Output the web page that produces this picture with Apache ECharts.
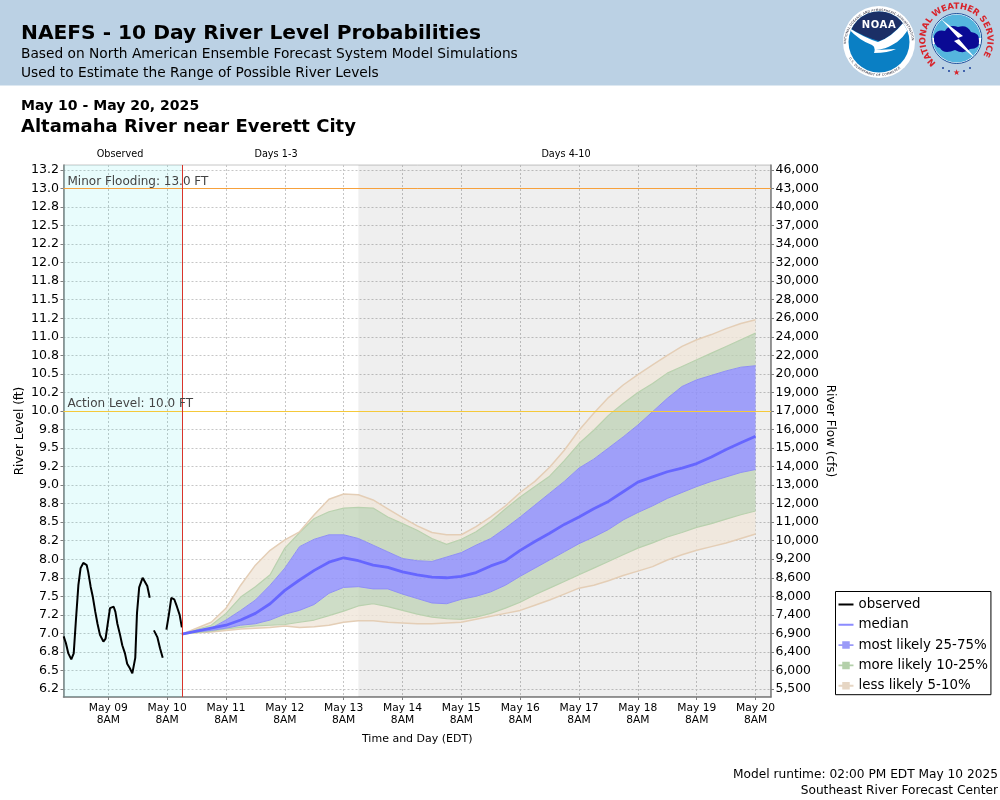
<!DOCTYPE html>
<html>
<head>
<meta charset="utf-8">
<title>NAEFS - 10 Day River Level Probabilities</title>
<script src="https://cdn.jsdelivr.net/npm/echarts@6/dist/echarts.min.js"></script>
<style>
  html, body { margin: 0; padding: 0; background: #fff; }
  #chart { position: absolute; left: 0; top: 0; width: 1000px; height: 800px; }
  #logos { position: absolute; left: 830px; top: 0; width: 170px; height: 86px; font-family: "DejaVu Sans", sans-serif; }
</style>
</head>
<body>
<div id="chart"></div>
<svg id="logos" viewBox="0 0 170 86">
  <defs>
    <path id="noaaTop" d="M16 44 A33 33 0 0 1 82 44"/>
    <path id="noaaBot" d="M19 58 A34 34 0 0 0 79 58"/>
    <path id="nwsRing" d="M106 63 A31 31 0 1 1 148 62"/>
    <clipPath id="noaaClip"><circle cx="49" cy="42" r="30.5"/></clipPath>
    <clipPath id="nwsClip"><circle cx="126.7" cy="38.5" r="24"/></clipPath>
  </defs>
  <circle cx="49" cy="42" r="36" fill="#fff"/>
  <text font-size="3.2" fill="#223"><textPath href="#noaaTop" textLength="100">NATIONAL OCEANIC AND ATMOSPHERIC ADMINISTRATION</textPath></text>
  <text font-size="3.2" fill="#223"><textPath href="#noaaBot" textLength="60">U.S. DEPARTMENT OF COMMERCE</textPath></text>
  <g clip-path="url(#noaaClip)">
    <rect x="15" y="10" width="70" height="65" fill="#0a7fc4"/>
    <path d="M15 10 H85 V20 L72 24 Q60 38 49 41 Q34 37 18 27 Z" fill="#1b2f66"/>
    <path d="M16 26 Q34 38 48 42 Q62 37 74 22 L82 20 Q76 38 62 45 Q56 49 46 50 L66 49 Q58 53 44 53 Q46 47 42 45 Q28 40 16 26 Z" fill="#fff"/>
  </g>
  <text x="49" y="28" text-anchor="middle" font-size="10" font-weight="bold" fill="#fff" letter-spacing="0.6">NOAA</text>

  <circle cx="126.7" cy="38.5" r="25" fill="#fff" stroke="#1b4d9a" stroke-width="1"/>
  <g clip-path="url(#nwsClip)">
    <rect x="100" y="14" width="54" height="24" fill="#55b5de"/>
    <rect x="100" y="44" width="54" height="20" fill="#55b5de"/>
    <path d="M104 36 Q107 29 115 31 Q119 24 128 27 Q137 24 141 32 Q150 33 149 41 Q150 49 140 49 Q134 55 125 50 Q114 55 110 48 Q103 46 104 36 Z" fill="#0a0a94"/>
    <path d="M111 19 L133 36 L128 38 L146 59 L124 41 L129 39 Z" fill="#fff"/>
  </g>
  <text font-size="8.6" font-weight="bold" fill="#d8232a"><textPath href="#nwsRing" textLength="140" lengthAdjust="spacing">NATIONAL WEATHER SERVICE</textPath></text>
  <text x="126.7" y="75" text-anchor="middle" font-size="8" fill="#d8232a">★</text>
  <circle cx="119" cy="71" r="1" fill="#1b3f9a"/>
  <circle cx="134" cy="71" r="1" fill="#1b3f9a"/>
  <circle cx="113" cy="68" r="1" fill="#1b3f9a"/>
  <circle cx="140" cy="68" r="1" fill="#1b3f9a"/>
</svg>
<script>
// x axis is hours after May 09 8AM EDT
var axisMinHour = -18.27;
var axisMaxHour = 270.3;
var nowHour = 30;
var days4to10Hour = 102;
var levelMin = 6.142;
var levelMax = 13.317;

var dayTickHours = [0, 24, 48, 72, 96, 120, 144, 168, 192, 216, 240, 264];
var dayTickLabels = ['May 09\n8AM', 'May 10\n8AM', 'May 11\n8AM', 'May 12\n8AM', 'May 13\n8AM', 'May 14\n8AM',
    'May 15\n8AM', 'May 16\n8AM', 'May 17\n8AM', 'May 18\n8AM', 'May 19\n8AM', 'May 20\n8AM'];

var levelTicks = [6.25, 6.5, 6.75, 7, 7.25, 7.5, 7.75, 8, 8.25, 8.5, 8.75, 9, 9.25, 9.5, 9.75, 10,
    10.25, 10.5, 10.75, 11, 11.25, 11.5, 11.75, 12, 12.25, 12.5, 12.75, 13, 13.25];
var levelLabels = ['6.2', '6.5', '6.8', '7.0', '7.2', '7.5', '7.8', '8.0', '8.2', '8.5', '8.8', '9.0', '9.2', '9.5', '9.8', '10.0',
    '10.2', '10.5', '10.8', '11.0', '11.2', '11.5', '11.8', '12.0', '12.2', '12.5', '12.8', '13.0', '13.2'];
var flowLabels = ['5,500', '6,000', '6,400', '6,900', '7,400', '8,000', '8,600', '9,200', '10,000', '11,000', '12,000',
    '13,000', '14,000', '15,000', '16,000', '17,000', '19,000', '20,000', '22,000', '24,000', '26,000', '28,000',
    '30,000', '32,000', '34,000', '37,000', '40,000', '43,000', '46,000'];

var actionLevel = 10;
var floodLevel = 13;

// observed stage, null = gap in the record
var obsHours = [-18.2, -17.3, -16.3, -15.1, -14.1, -13.2, -12.2, -11.3, -10.2, -8.8, -8.2, -7.2, -6.3, -5.3, -4.4, -3.4, -2,
    -1.1, -0.4, 0.7, 2.2, 2.9, 3.7, 4.8, 5.7, 6.8, 7.7, 8.8, 9.8, 11, 11.7, 12.6, 14, 14.8, 15.9, 16.9,
    17.8, 18.6, 20, 21.1, 22.2, 23, 23.7, 24.7, 25.7, 26.9, 28, 29.1, 30];
var obsLevel = [6.96, 6.87, 6.73, 6.65, 6.73, 7.18, 7.65, 7.88, 7.95, 7.92, 7.83, 7.63, 7.49, 7.29, 7.13, 6.98, 6.89,
    6.93, 7.09, 7.34, 7.36, 7.29, 7.13, 6.98, 6.84, 6.73, 6.59, 6.53, 6.46, 6.67, 7.27, 7.62, 7.75, 7.75, 7.64, 7.48,
    null, 7.04, 6.95, 6.8, 6.67, null, 7.05, 7.25, 7.48, 7.46, 7.36, 7.25, 7.08];

var fcstHours = [30, 36, 42, 48, 54, 60, 66, 72, 78, 84, 90, 96, 102, 108, 114, 120, 126, 132, 138, 144,
    150, 156, 162, 168, 174, 180, 186, 192, 198, 204, 210, 216, 222, 228, 234, 240, 246, 252, 258, 264];
var p95 = [6.99, 7.07, 7.15, 7.34, 7.65, 7.92, 8.12, 8.26, 8.37, 8.6, 8.81, 8.88, 8.87, 8.8, 8.68, 8.56, 8.45, 8.36, 8.33, 8.33,
    8.44, 8.57, 8.72, 8.9, 9.05, 9.24, 9.47, 9.74, 9.97, 10.18, 10.35, 10.49, 10.62, 10.75, 10.87, 10.96, 11.03, 11.11, 11.18, 11.23];
var p90 = [6.99, 7.05, 7.11, 7.27, 7.49, 7.63, 7.79, 8.15, 8.36, 8.55, 8.64, 8.69, 8.7, 8.69, 8.57, 8.48, 8.39, 8.28, 8.2, 8.27,
    8.37, 8.51, 8.68, 8.84, 8.98, 9.12, 9.33, 9.56, 9.74, 9.94, 10.1, 10.25, 10.37, 10.51, 10.6, 10.69, 10.78, 10.87, 10.96, 11.05];
var p75 = [6.99, 7.04, 7.07, 7.18, 7.31, 7.45, 7.65, 7.88, 8.17, 8.27, 8.33, 8.33, 8.28, 8.19, 8.1, 8.01, 7.98, 7.97, 8.03, 8.09,
    8.19, 8.28, 8.42, 8.57, 8.73, 8.89, 9.05, 9.23, 9.35, 9.5, 9.65, 9.81, 9.99, 10.17, 10.33, 10.42, 10.48, 10.54, 10.59, 10.61];
var p50 = [6.99, 7.03, 7.07, 7.11, 7.18, 7.27, 7.4, 7.58, 7.72, 7.85, 7.96, 8.02, 7.98, 7.92, 7.89, 7.83, 7.79, 7.76, 7.75, 7.77,
    7.82, 7.91, 7.98, 8.12, 8.24, 8.35, 8.47, 8.57, 8.68, 8.78, 8.91, 9.04, 9.11, 9.18, 9.23, 9.29, 9.38, 9.48, 9.57, 9.66];
var p25 = [6.99, 7.02, 7.04, 7.07, 7.11, 7.13, 7.18, 7.26, 7.31, 7.39, 7.54, 7.62, 7.63, 7.6, 7.6, 7.53, 7.47, 7.41, 7.4, 7.46,
    7.5, 7.56, 7.65, 7.77, 7.88, 7.99, 8.1, 8.21, 8.3, 8.4, 8.53, 8.63, 8.72, 8.82, 8.9, 8.98, 9.05, 9.11, 9.17, 9.21];
var p10 = [6.99, 7.01, 7.03, 7.06, 7.08, 7.1, 7.11, 7.12, 7.15, 7.18, 7.24, 7.3, 7.37, 7.4, 7.36, 7.31, 7.26, 7.22, 7.2, 7.19,
    7.22, 7.27, 7.34, 7.42, 7.52, 7.61, 7.7, 7.79, 7.88, 7.97, 8.06, 8.15, 8.22, 8.3, 8.36, 8.43, 8.48, 8.54, 8.6, 8.65];
var p5 = [6.99, 7.01, 7.02, 7.04, 7.06, 7.07, 7.08, 7.1, 7.08, 7.09, 7.11, 7.15, 7.17, 7.17, 7.15, 7.14, 7.13, 7.13, 7.14, 7.15,
    7.19, 7.23, 7.27, 7.31, 7.38, 7.45, 7.53, 7.61, 7.65, 7.71, 7.78, 7.84, 7.9, 7.99, 8.06, 8.12, 8.17, 8.22, 8.28, 8.34];

function pairs(hours, values) {
    return hours.map(function (h, i) {
        return [h, values[i]];
    });
}

// [thickness, hour] rows: the stacked dimension has to come first on a value x axis
function bandRows(upper, lower) {
    return fcstHours.map(function (h, i) {
        return [lower ? upper[i] - lower[i] : upper[i], h];
    });
}

function bandSeries(name, data, lineColor, areaColor, lineWidth) {
    return {
        name: name,
        type: 'line',
        stack: 'bands',
        z: 2,
        symbol: 'none',
        silent: true,
        data: data,
        encode: { x: 1, y: 0 },
        itemStyle: { color: lineColor },
        lineStyle: { color: lineColor, width: lineWidth },
        areaStyle: areaColor ? { color: areaColor, opacity: 1 } : { opacity: 0 }
    };
}

// one straight reference line, kept as its own series so its colour sticks
function refLine(name, target, color) {
    return {
        name: name,
        type: 'line',
        z: 4,
        symbol: 'none',
        silent: true,
        data: [],
        markLine: {
            silent: true,
            symbol: 'none',
            animation: false,
            lineStyle: { color: color, type: 'solid', width: 1, opacity: 1 },
            emphasis: { disabled: true },
            label: {
                show: name !== '',
                position: 'insideStartTop',
                distance: [4, 1],
                fontSize: 12,
                color: '#444',
                fontFamily: FONT,
                formatter: '{b}'
            },
            data: [Object.assign({ name: name }, target)]
        }
    };
}

var TAN_LINE = '#e4ceb6';
var GREEN_LINE = '#b9d1ae';
var BLUE_LINE = '#8f8ff5';
var TAN_AREA = 'rgba(240,230,218,0.8)';
var GREEN_AREA = 'rgba(190,210,180,0.75)';
var BLUE_AREA = 'rgba(145,145,250,0.85)';
var GRID_COLOR = '#c6c6c6';

var FONT = '"DejaVu Sans", sans-serif';
var KEY_LINE = 'M0 0h.01v.01H0zM16 16h.01v.01H16zM0 7h16v2H0z';
var KEY_BOX = 'M0 0h.01v.01H0zM16 16h.01v.01H16zM0 7h16v2H0zM4 4h8v8H4z';

function pageText(text, x, y, size, weight, align) {
    return {
        type: 'text',
        x: x,
        y: y,
        silent: true,
        style: {
            text: text,
            font: (weight || 'normal') + ' ' + size + 'px ' + FONT,
            fill: '#000',
            textAlign: align || 'left',
            textVerticalAlign: 'middle'
        }
    };
}

var yTickStyle = { show: true, length: 3, lineStyle: { color: '#808080' }, customValues: levelTicks };

var chart = echarts.init(document.getElementById('chart'), null, { renderer: 'canvas' });
chart.setOption({
    animation: false,
    backgroundColor: '#fff',
    textStyle: { fontFamily: FONT },
    grid: {
        left: 63.5, right: 229, top: 165, bottom: 103,
        outerBoundsMode: 'none',
        show: true, borderColor: GRID_COLOR, borderWidth: 1, backgroundColor: '#fff'
    },
    xAxis: {
        type: 'value',
        min: axisMinHour,
        max: axisMaxHour,
        name: 'Time and Day (EDT)',
        nameLocation: 'middle',
        nameGap: 37,
        nameMoveOverlap: false,
        nameTextStyle: { fontSize: 11, color: '#000', fontFamily: FONT },
        axisLine: { show: true, onZero: false, lineStyle: { color: '#808080', width: 1.5 } },
        axisTick: { show: true, length: 3, lineStyle: { color: '#808080' }, customValues: dayTickHours },
        splitLine: { show: true, lineStyle: { color: GRID_COLOR, type: [2, 2], width: 1 } },
        axisLabel: {
            color: '#000', fontSize: 10.7, lineHeight: 12, margin: 5, hideOverlap: false,
            customValues: dayTickHours,
            formatter: function (value) { return dayTickLabels[dayTickHours.indexOf(value)]; }
        }
    },
    yAxis: [{
        type: 'value',
        min: levelMin,
        max: levelMax,
        position: 'left',
        name: 'River Level (ft)',
        nameLocation: 'middle',
        nameGap: 38,
        nameMoveOverlap: false,
        nameRotate: 90,
        nameTextStyle: { fontSize: 12, color: '#000', fontFamily: FONT },
        axisLine: { show: true, onZero: false, lineStyle: { color: '#808080', width: 1.5 } },
        axisTick: yTickStyle,
        splitLine: { show: true, lineStyle: { color: GRID_COLOR, type: [2, 2], width: 1 } },
        axisLabel: {
            color: '#000', fontSize: 12.6, margin: 4.5, padding: [4, 0, 0, 0], hideOverlap: false,
            customValues: levelTicks,
            formatter: function (value) { return levelLabels[levelTicks.indexOf(value)]; }
        }
    }, {
        type: 'value',
        min: levelMin,
        max: levelMax,
        position: 'right',
        name: 'River Flow (cfs)',
        nameLocation: 'middle',
        nameGap: 53,
        nameMoveOverlap: false,
        nameRotate: -90,
        nameTextStyle: { fontSize: 12, color: '#000', fontFamily: FONT },
        axisLine: { show: true, onZero: false, lineStyle: { color: '#808080', width: 1.5 } },
        axisTick: yTickStyle,
        splitLine: { show: false },
        axisLabel: {
            color: '#000', fontSize: 12.4, margin: 4.5, padding: [4, 0, 0, 0], hideOverlap: false,
            customValues: levelTicks,
            formatter: function (value) { return flowLabels[levelTicks.indexOf(value)]; }
        }
    }],
    legend: {
        left: 835.5,
        top: 591.5,
        orient: 'vertical',
        selectedMode: false,
        backgroundColor: '#fff',
        borderColor: '#000',
        borderWidth: 1,
        padding: [5.5, 3, 1.5, 3],
        itemWidth: 15,
        itemHeight: 16,
        itemGap: 5.3,
        textStyle: { fontSize: 13.4, color: '#000', fontFamily: FONT },
        data: [
            { name: 'observed', icon: 'path://' + KEY_LINE, itemStyle: { color: '#000' } },
            { name: 'median', icon: 'path://' + KEY_LINE, itemStyle: { color: '#8c8cff' } },
            { name: 'most likely 25-75%', icon: 'path://' + KEY_BOX, itemStyle: { color: '#9a9af8' } },
            { name: 'more likely 10-25%', icon: 'path://' + KEY_BOX, itemStyle: { color: '#b4d0aa' } },
            { name: 'less likely 5-10%', icon: 'path://' + KEY_BOX, itemStyle: { color: '#e6d6c4' } }
        ]
    },
    graphic: [
        { type: 'rect', z: -10, silent: true, shape: { x: 0, y: 0, width: 1000, height: 85.5 }, style: { fill: '#bbd1e4' } },
        pageText('NAEFS - 10 Day River Level Probabilities', 21, 34, 20.2, 'bold'),
        pageText('Based on North American Ensemble Forecast System Model Simulations', 21, 54.5, 13.75),
        pageText('Used to Estimate the Range of Possible River Levels', 21, 73.5, 13.75),
        pageText('May 10 - May 20, 2025', 21, 106, 14.05, 'bold'),
        pageText('Altamaha River near Everett City', 21, 127, 18, 'bold'),
        pageText('Observed', 120, 154, 9.7, null, 'center'),
        pageText('Days 1-3', 276, 154, 9.7, null, 'center'),
        pageText('Days 4-10', 566, 154, 9.7, null, 'center'),
        pageText('Model runtime: 02:00 PM EDT May 10 2025', 998, 775, 12.2, null, 'right'),
        pageText('Southeast River Forecast Center', 998, 791, 12.2, null, 'right')
    ],
    series: [
        {
            name: 'periods',
            type: 'line',
            z: 1,
            symbol: 'none',
            silent: true,
            data: [],
            markArea: {
                silent: true,
                data: [
                    [{ xAxis: axisMinHour, itemStyle: { color: 'rgba(0,220,220,0.09)' } }, { xAxis: nowHour }],
                    [{ xAxis: days4to10Hour, itemStyle: { color: 'rgba(0,0,0,0.062)' } }, { xAxis: axisMaxHour }]
                ]
            }
        },
        bandSeries('5th', bandRows(p5), TAN_LINE, null, 1.5),
        bandSeries('less likely 5-10%', bandRows(p10, p5), GREEN_LINE, TAN_AREA, 1.2),
        bandSeries('more likely 10-25%', bandRows(p25, p10), BLUE_LINE, GREEN_AREA, 1),
        bandSeries('most likely 25-75%', bandRows(p75, p25), BLUE_LINE, BLUE_AREA, 1),
        bandSeries('90th', bandRows(p90, p75), GREEN_LINE, GREEN_AREA, 1.2),
        bandSeries('95th', bandRows(p95, p90), TAN_LINE, TAN_AREA, 1.5),
        {
            name: 'median',
            type: 'line',
            z: 3,
            symbol: 'none',
            silent: true,
            data: pairs(fcstHours, p50),
            itemStyle: { color: '#6666ff' },
            lineStyle: { color: '#6666ff', width: 2.8 }
        },
        {
            name: 'observed',
            type: 'line',
            z: 3,
            symbol: 'none',
            silent: true,
            connectNulls: false,
            data: pairs(obsHours, obsLevel),
            itemStyle: { color: '#000' },
            lineStyle: { color: '#000', width: 2 }
        },
        refLine('Minor Flooding: 13.0 FT', { yAxis: floodLevel }, '#f7a13c'),
        refLine('Action Level: 10.0 FT', { yAxis: actionLevel }, '#f5c93a'),
        refLine('', { xAxis: nowHour }, '#d9342b')
    ]
});
</script>
</body>
</html>
